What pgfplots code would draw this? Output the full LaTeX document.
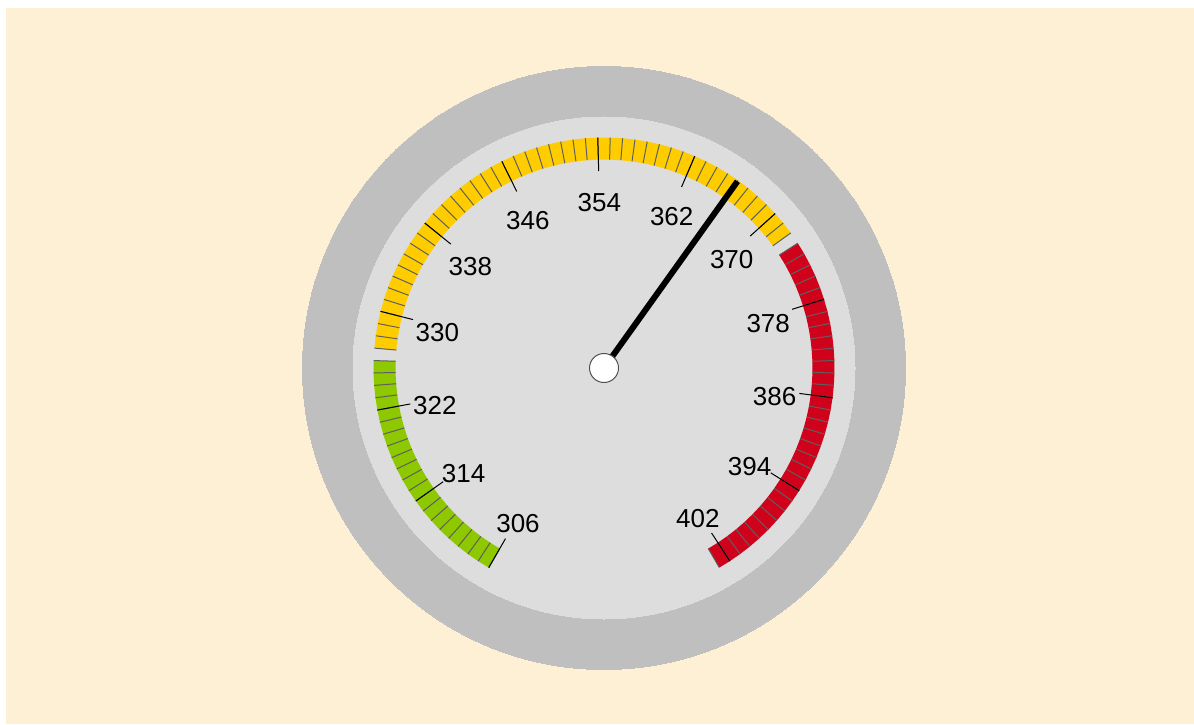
\documentclass[border=0pt]{standalone}
\usepackage{pgfplots}
\pgfplotsset{compat=1.18}
\usepackage{pgfplotstable}
\usepackage{fontspec}
\setmainfont{Liberation Sans}
\definecolor{bg}{RGB}{254,240,212}
\definecolor{outergray}{RGB}{191,191,191}
\definecolor{innergray}{RGB}{221,221,221}
\definecolor{gGreen}{RGB}{141,200,0}
\definecolor{gYellow}{RGB}{255,204,0}
\definecolor{gRed}{RGB}{208,2,27}
\definecolor{minorc}{RGB}{95,95,95}
\definecolor{hubc}{RGB}{80,80,80}

% scale positions (one per unit), 306 .. 403, at band mid radius
\pgfplotstableread[row sep=\\]{v r\\306 219.5\\307 219.5\\308 219.5\\309 219.5\\310 219.5\\311 219.5\\312 219.5\\313 219.5\\314 219.5\\315 219.5\\316 219.5\\317 219.5\\318 219.5\\319 219.5\\320 219.5\\321 219.5\\322 219.5\\323 219.5\\324 219.5\\325 219.5\\326 219.5\\327 219.5\\328 219.5\\329 219.5\\330 219.5\\331 219.5\\332 219.5\\333 219.5\\334 219.5\\335 219.5\\336 219.5\\337 219.5\\338 219.5\\339 219.5\\340 219.5\\341 219.5\\342 219.5\\343 219.5\\344 219.5\\345 219.5\\346 219.5\\347 219.5\\348 219.5\\349 219.5\\350 219.5\\351 219.5\\352 219.5\\353 219.5\\354 219.5\\355 219.5\\356 219.5\\357 219.5\\358 219.5\\359 219.5\\360 219.5\\361 219.5\\362 219.5\\363 219.5\\364 219.5\\365 219.5\\366 219.5\\367 219.5\\368 219.5\\369 219.5\\370 219.5\\371 219.5\\372 219.5\\373 219.5\\374 219.5\\375 219.5\\376 219.5\\377 219.5\\378 219.5\\379 219.5\\380 219.5\\381 219.5\\382 219.5\\383 219.5\\384 219.5\\385 219.5\\386 219.5\\387 219.5\\388 219.5\\389 219.5\\390 219.5\\391 219.5\\392 219.5\\393 219.5\\394 219.5\\395 219.5\\396 219.5\\397 219.5\\398 219.5\\399 219.5\\400 219.5\\401 219.5\\402 219.5\\403 219.5\\}\scaletab

\pgfplotstableread{
v lab r
306 306 213.75
314 314 213.75
322 322 213.75
330 330 213.75
338 338 213.75
346 346 213.75
354 354 213.75
362 362 213.75
370 370 213.75
378 378 213.75
386 386 213.75
394 394 213.75
402 402 213.75
}\majortab

\pgfplotstableread{
v r
366 14
366 229.5
}\needletab

\newcommand{\gang}{240-(\thisrow{v}-306)*300/97}

\pgfplotsset{
  rotmark/.style={scatter, only marks, mark=|,
    point meta={\thisrow{v}},
    scatter/@pre marker code/.code={\pgfscope\pgftransformrotate{150-\pgfplotspointmetatransformed*0.3}},
    scatter/@post marker code/.code={\endpgfscope}}
}

\begin{document}
\begin{tikzpicture}
\begin{axis}[x=1pt, y=1pt, xmin=-604, xmax=590, ymin=-356, ymax=368,
  hide axis, clip=false, clip marker paths=true, point meta min=306, point meta max=403]
% background
\addplot[fill=white, draw=none] coordinates {(-604,-356) (590,-356) (590,368) (-604,368)};
\addplot[fill=bg, draw=none] coordinates {(-598,-356) (590,-356) (590,360) (-598,360)};
% gauge disks
\addplot[only marks, mark=*, mark size=301.5pt, mark options={fill=outergray, draw=outergray, line width=0pt}] coordinates {(0,0)};
\addplot[only marks, mark=*, mark size=251pt, mark options={fill=innergray, draw=innergray, line width=0pt}] coordinates {(0,0)};
% bands
\addplot[data cs=polar, gGreen, line width=22pt, skip coords between index={21}{98}]
  table[x expr={\gang}, y=r] {\scaletab};
\addplot[data cs=polar, gYellow, line width=22pt, skip coords between index={0}{21}, skip coords between index={67}{98}]
  table[x expr={\gang}, y=r] {\scaletab};
\addplot[data cs=polar, gRed, line width=22pt, skip coords between index={0}{67}]
  table[x expr={\gang}, y=r] {\scaletab};
% minor ticks
\addplot[data cs=polar, rotmark, minorc, line width=1pt, mark size=11pt]
  table[x expr={\gang}, y=r] {\scaletab};
% major ticks
\addplot[data cs=polar, rotmark, black, line width=1pt, mark size=16.75pt]
  table[x expr={\gang}, y=r] {\majortab};
% labels
\addplot[data cs=polar, draw=none, mark=none, nodes near coords, point meta=explicit symbolic,
  nodes near coords align=center,
  every node near coord/.append style={yshift=-6.5pt, inner sep=0pt, text=black,
    font=\fontsize{26}{30}\selectfont}]
  table[x expr={\gang}, y expr=172, meta=lab] {\majortab};
% needle
\addplot[data cs=polar, black, line width=6pt] table[x expr={\gang}, y=r] {\needletab};
% hub
\addplot[only marks, mark=*, mark size=14.5pt, mark options={fill=white, draw=hubc, line width=1pt}] coordinates {(0,0)};
\end{axis}
\end{tikzpicture}
\end{document}
